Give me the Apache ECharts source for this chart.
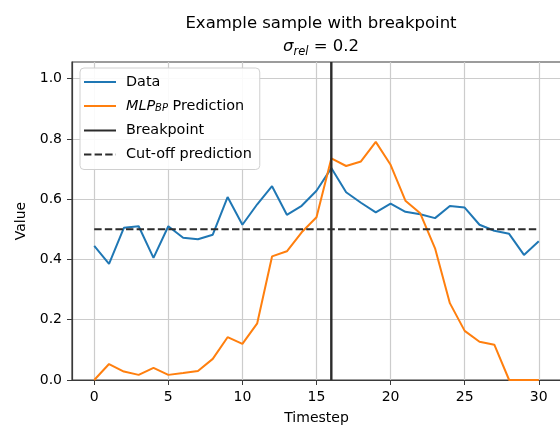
<!DOCTYPE html>
<html><head><meta charset="utf-8">
<script src="https://cdn.jsdelivr.net/npm/echarts@6/dist/echarts.min.js"></script>
<style>html,body{margin:0;padding:0;background:#fff}#c{width:560px;height:425px}</style>
</head><body><div id="c"></div>
<script>
// Timestep indices along the x axis
const timesteps = [0,1,2,3,4,5,6,7,8,9,10,11,12,13,14,15,16,17,18,19,20,21,22,23,24,25,26,27,28,29,30];
// Observed sample values
const dataValues = [0.445,0.385,0.505,0.51,0.405,0.51,0.472,0.467,0.482,0.607,0.515,0.583,0.643,0.548,0.578,0.628,0.703,0.623,0.588,0.556,0.585,0.558,0.55,0.537,0.577,0.572,0.515,0.495,0.485,0.415,0.46];
// Model prediction per timestep
const predValues = [0,0.053,0.028,0.017,0.04,0.017,0.023,0.03,0.07,0.142,0.12,0.188,0.41,0.427,0.49,0.54,0.735,0.71,0.725,0.79,0.714,0.595,0.553,0.437,0.255,0.163,0.127,0.117,0,0,0];
const breakpoint = 16;
const cutoff = 0.5;
const xTicks = [0,5,10,15,20,25,30];
const yTicks = [0,0.2,0.4,0.6,0.8,1.0];

const FONT = 'DejaVu Sans';
const axisColor = '#3a3a3a';
const gridColor = '#cccccc';
const Y_MAX = 1.055;

const chart = echarts.init(document.getElementById('c'), null, {renderer: 'canvas'});

const zip = (xs, ys) => xs.map((x, i) => [x, ys[i]]);
const firstT = timesteps[0], lastT = timesteps[timesteps.length - 1];

// Gridlines drawn as mark lines so they sit at the tick values
const gridSeries = {
  type: 'line', data: [], silent: true, z: 0,
  markLine: {
    silent: true, symbol: 'none', animation: false, z: 0,
    label: {show: false},
    lineStyle: {color: gridColor, width: 1.2, type: 'solid'},
    data: xTicks.map(v => ({xAxis: v})).concat(yTicks.map(v => ({yAxis: v})))
  }
};

chart.setOption({
  animation: false,
  title: {
    text: 'Example sample with breakpoint\n{s|σ}{sub|rel} = 0.2',
    left: 316, top: 7, textAlign: 'center',
    textStyle: {
      fontFamily: FONT, fontSize: 16.5, fontWeight: 'normal', color: '#000', lineHeight: 23,
      rich: {
        s: {fontFamily: FONT, fontSize: 16.5, fontStyle: 'italic', color: '#000'},
        sub: {fontFamily: FONT, fontSize: 11.5, fontStyle: 'italic', color: '#000', verticalAlign: 'bottom', padding: [6,0,0,0]}
      }
    }
  },
  grid: {left: 72, top: 62, width: 489, height: 318, containLabel: false, outerBoundsMode: 'none',
    show: true, borderColor: axisColor, borderWidth: 1.2, backgroundColor: 'transparent'},
  xAxis: {
    type: 'value', min: -1.5, max: 31.5,
    name: 'Timestep', nameLocation: 'middle', nameGap: 31,
    nameTextStyle: {fontFamily: FONT, fontSize: 14, color: '#000'},
    axisLine: {onZero: false, lineStyle: {color: axisColor, width: 1.2}},
    axisTick: {show: true, customValues: xTicks, length: 5, lineStyle: {color: axisColor}},
    axisLabel: {customValues: xTicks, margin: 10, fontFamily: FONT, fontSize: 14, color: '#000'},
    splitLine: {show: false}
  },
  yAxis: {
    type: 'value', min: 0, max: Y_MAX,
    name: 'Value', nameLocation: 'middle', nameGap: 43, nameRotate: 90,
    nameTextStyle: {fontFamily: FONT, fontSize: 14, color: '#000'},
    axisLine: {show: true, onZero: false, lineStyle: {color: axisColor, width: 1.2}},
    axisTick: {show: true, customValues: yTicks, length: 5, lineStyle: {color: axisColor}},
    axisLabel: {customValues: yTicks, margin: 10, fontFamily: FONT, fontSize: 14, color: '#000',
      formatter: v => v.toFixed(1)},
    splitLine: {show: false}
  },
  legend: {
    orient: 'vertical', left: 80, top: 68, z: 20,
    itemWidth: 32, itemHeight: 14, itemGap: 10,
    padding: [7, 8, 8, 3],
    backgroundColor: 'rgba(255,255,255,0.9)', borderColor: '#d0d0d0', borderWidth: 1, borderRadius: 4,
    itemStyle: {opacity: 0},
    data: ['Data', 'MLP', 'Breakpoint', 'Cut-off prediction'],
    formatter: name => name === 'MLP' ? '{i|MLP}{sub|BP} Prediction' : name,
    textStyle: {
      fontFamily: FONT, fontSize: 14.4, color: '#000', padding: [0, 0, 0, 5],
      rich: {
        i: {fontFamily: FONT, fontSize: 14.4, fontStyle: 'italic', color: '#000'},
        sub: {fontFamily: FONT, fontSize: 10, fontStyle: 'italic', color: '#000', verticalAlign: 'bottom', padding: [5,0,0,0]}
      }
    }
  },
  series: [
    gridSeries,
    {
      name: 'Data', type: 'line', data: zip(timesteps, dataValues),
      showSymbol: false, symbol: 'none', z: 3,
      lineStyle: {color: '#1f77b4', width: 2}, itemStyle: {color: '#1f77b4'}
    },
    {
      name: 'MLP', type: 'line', data: zip(timesteps, predValues),
      showSymbol: false, symbol: 'none', z: 3,
      lineStyle: {color: '#ff7f0e', width: 2}, itemStyle: {color: '#ff7f0e'}
    },
    {
      name: 'Breakpoint', type: 'line', data: [[breakpoint, 0], [breakpoint, Y_MAX]],
      showSymbol: false, symbol: 'none', z: 4,
      lineStyle: {color: '#2b2b2b', width: 2.4}, itemStyle: {color: '#2b2b2b'}
    },
    {
      name: 'Cut-off prediction', type: 'line', data: [[firstT, cutoff], [lastT, cutoff]],
      showSymbol: false, symbol: 'none', z: 4,
      lineStyle: {color: '#2b2b2b', width: 2, type: [7.4, 3.2]}, itemStyle: {color: '#2b2b2b'}
    }
  ]
});
</script>
</body></html>
